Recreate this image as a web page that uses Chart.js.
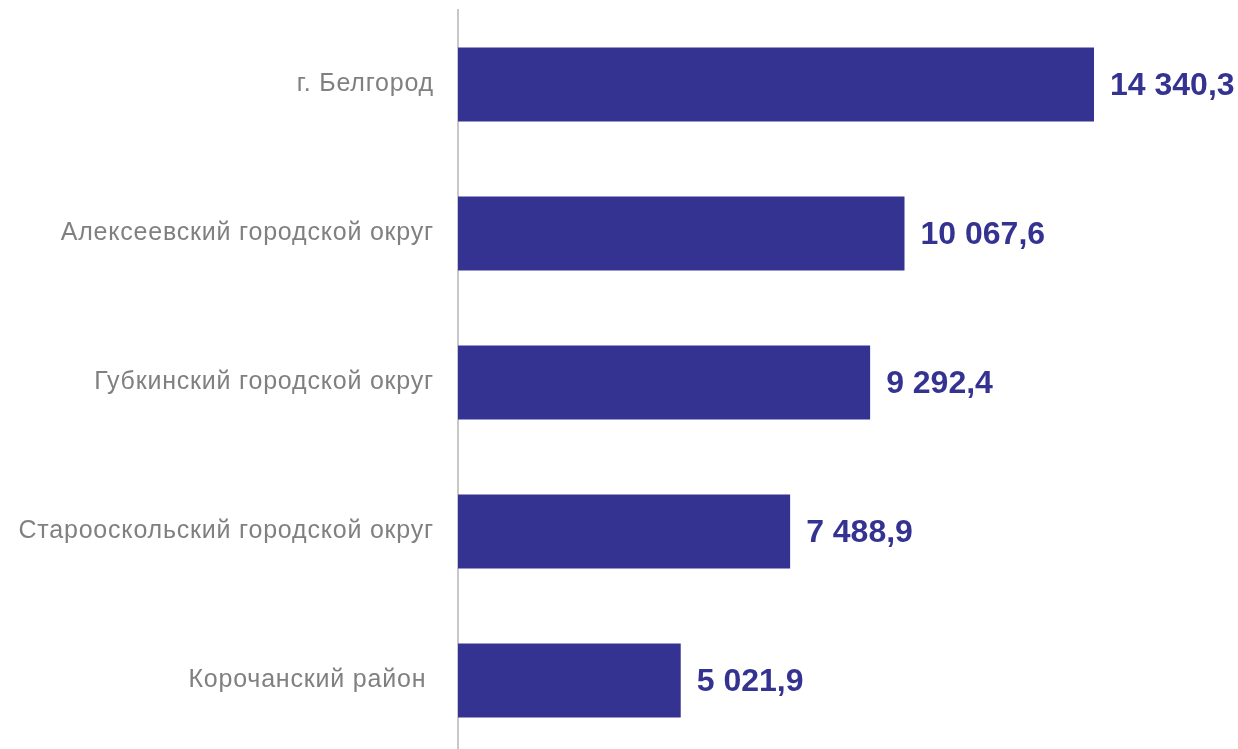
<!DOCTYPE html>
<html>
<head>
<meta charset="utf-8">
<script src="https://cdn.jsdelivr.net/npm/chart.js@4"></script>
<style>
  html, body { margin: 0; padding: 0; background: #ffffff; overflow: hidden; }
  canvas { display: block; }
</style>
</head>
<body>
<canvas id="chart" width="1238" height="755"></canvas>
<script>
const districts = [
  "г. Белгород",
  "Алексеевский городской округ",
  "Губкинский городской округ",
  "Старооскольский городской округ",
  "Корочанский район "
];
const amounts = [14340.3, 10067.6, 9292.4, 7488.9, 5021.9];

const barColor = "#353391";
const labelColor = "#808080";
const fontFamily = "Arial, 'Liberation Sans', sans-serif";

function formatValue(v) {
  const parts = v.toFixed(1).split(".");
  const whole = parts[0].replace(/\B(?=(\d{3})+(?!\d))/g, " ");
  return whole + "," + parts[1];
}

// slightly wider category text, like the original
const spacing = {
  id: "spacing",
  beforeDraw(chart) {
    chart.ctx.letterSpacing = "0.8px";
  },
};

// draw the value next to each bar
const valueLabels = {
  id: "valueLabels",
  afterDatasetsDraw(chart) {
    const ctx = chart.ctx;
    const meta = chart.getDatasetMeta(0);
    ctx.save();
    ctx.letterSpacing = "0px";
    ctx.font = "bold 32px " + fontFamily;
    ctx.fillStyle = barColor;
    ctx.textAlign = "left";
    ctx.textBaseline = "middle";
    meta.data.forEach((bar, i) => {
      ctx.fillText(formatValue(amounts[i]), bar.x + 16, bar.y + 2);
    });
    ctx.restore();
  },
};

const ctx = document.getElementById("chart").getContext("2d");
new Chart(ctx, {
  type: "bar",
  data: {
    labels: districts,
    datasets: [
      {
        data: amounts,
        backgroundColor: barColor,
        borderWidth: 0,
        categoryPercentage: 1,
        barPercentage: 0.497,
      },
    ],
  },
  options: {
    indexAxis: "y",
    responsive: false,
    animation: false,
    layout: { padding: { top: 10, right: 0, bottom: 0, left: 0 } },
    plugins: {
      legend: { display: false },
      tooltip: { enabled: false },
    },
    scales: {
      x: {
        min: 0,
        max: 17587,
        display: false,
      },
      y: {
        afterFit(scale) {
          scale.width = 458;
          // labels sit beside the bars, no extra room needed above/below
          scale.paddingTop = 0;
          scale.paddingBottom = 0;
        },
        grid: { display: false, drawTicks: false },
        border: { display: true, color: "#c8c8c8", width: 2 },
        ticks: {
          color: labelColor,
          padding: 24,
          font: { family: fontFamily, size: 25 },
        },
      },
    },
  },
  plugins: [spacing, valueLabels],
});
</script>
</body>
</html>
